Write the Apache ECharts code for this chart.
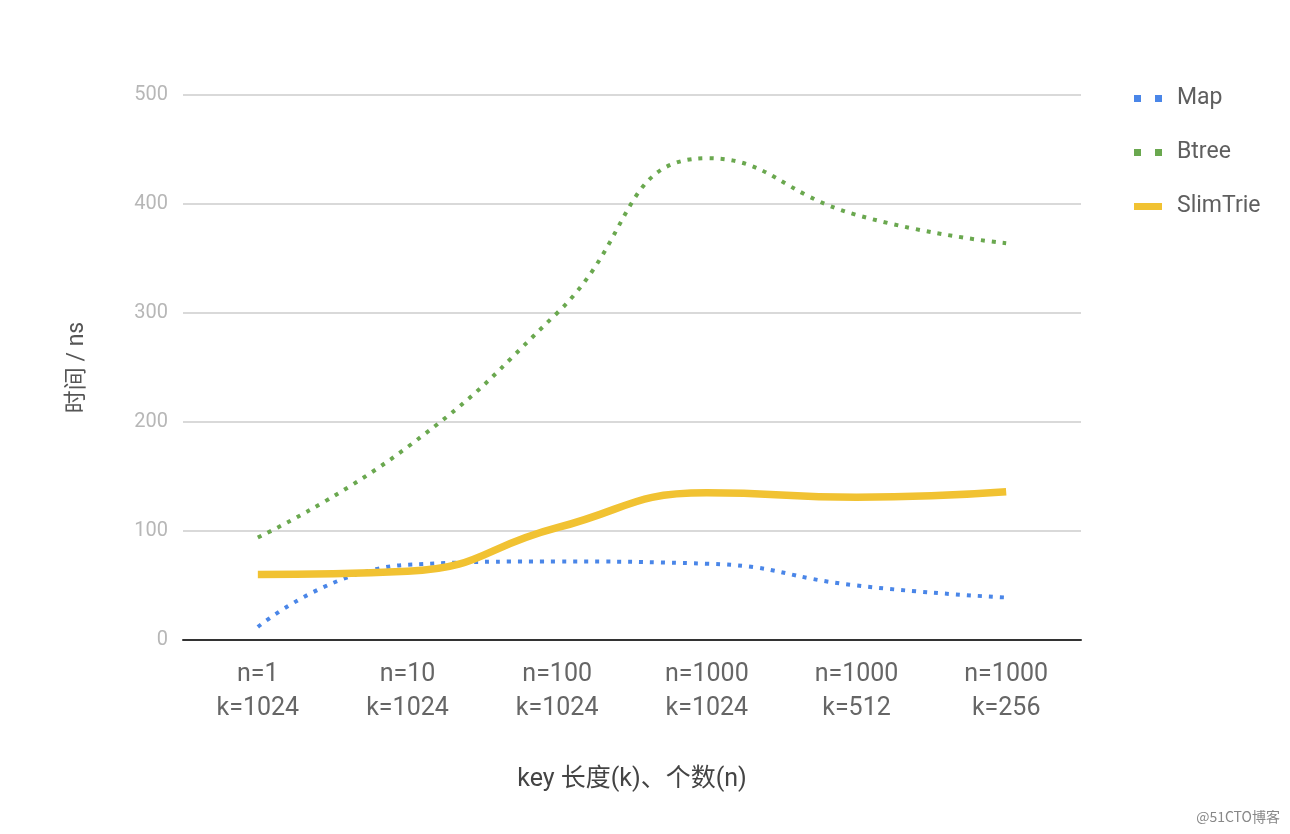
<!DOCTYPE html>
<html>
<head>
<meta charset="utf-8">
<script src="https://cdn.jsdelivr.net/npm/echarts@6/dist/echarts.min.js"></script>
<style>html,body{margin:0;padding:0;background:#fff;}#c{width:1290px;height:834px;}</style>
</head>
<body>
<div id="c"></div>
<script>
const categories = ['n=1\nk=1024', 'n=10\nk=1024', 'n=100\nk=1024', 'n=1000\nk=1024', 'n=1000\nk=512', 'n=1000\nk=256'];
const mapValues = [12, 69, 72, 70, 50, 39];
const btreeValues = [94, 177, 300, 442, 390, 364];
const slimTrieValues = [60, 63, 103, 135, 131, 136];
const yTicks = [0, 100, 200, 300, 400, 500];

const chart = echarts.init(document.getElementById('c'), null, {renderer: 'canvas'});
const font = 'Roboto, "Noto Sans CJK SC", sans-serif';
chart.setOption({
  animation: false,
  backgroundColor: '#fff',
  textStyle: {fontFamily: font},
  grid: {left: 183, right: 209, top: 95, bottom: 194, containLabel: false},
  legend: {
    orient: 'vertical',
    left: 1129,
    top: 82,
    itemGap: 31,
    itemWidth: 28,
    itemHeight: 7,
    textStyle: {fontSize: 23, color: '#5f5f5f', fontFamily: font, padding: [0, 0, 0, 10]},
    data: [
      {name: 'Map', icon: 'path://M0,0h7v7h-7z M21,0h7v7h-7z', itemStyle: {color: '#4a86e8'}},
      {name: 'Btree', icon: 'path://M0,0h7v7h-7z M21,0h7v7h-7z', itemStyle: {color: '#6aa84f'}},
      {name: 'SlimTrie', icon: 'rect', itemStyle: {color: '#f1c232'}}
    ]
  },
  xAxis: {
    type: 'category',
    data: categories,
    boundaryGap: true,
    name: 'key 长度(k)、个数(n)',
    nameLocation: 'middle',
    nameGap: 127,
    nameTextStyle: {fontSize: 25, color: '#444', fontFamily: font},
    axisLine: {show: true, lineStyle: {color: '#333', width: 2}},
    axisTick: {show: false},
    axisLabel: {fontSize: 25, color: '#666', lineHeight: 34, margin: 18, fontFamily: font}
  },
  yAxis: {
    type: 'value',
    min: 0,
    max: 500,
    interval: 100,
    name: '时间 / ns',
    nameLocation: 'middle',
    nameGap: 94,
    nameRotate: 90,
    nameTextStyle: {fontSize: 23, color: '#555', fontFamily: font},
    axisLine: {show: false},
    axisTick: {show: false},
    splitLine: {lineStyle: {color: '#cccccc', width: 1.5}},
    axisLabel: {fontSize: 20, color: '#b7b7b7', margin: 15, fontFamily: font,
      formatter: v => yTicks.indexOf(v) >= 0 ? String(v) : ''}
  },
  series: [
    {
      name: 'Map', type: 'line', data: mapValues, smooth: 0.5, symbol: 'none',
      itemStyle: {color: '#4a86e8'},
      lineStyle: {color: '#4a86e8', width: 4, type: [4, 7], cap: 'butt'},
      z: 3
    },
    {
      name: 'Btree', type: 'line', data: btreeValues, smooth: 0.5, symbol: 'none',
      itemStyle: {color: '#6aa84f'},
      lineStyle: {color: '#6aa84f', width: 4, type: [4, 7], cap: 'butt'},
      z: 3
    },
    {
      name: 'SlimTrie', type: 'line', data: slimTrieValues, smooth: 0.5, symbol: 'none',
      itemStyle: {color: '#f1c232'},
      lineStyle: {color: '#f1c232', width: 7.5},
      z: 4
    }
  ],
  graphic: [{
    type: 'text', right: 10, bottom: 10,
    style: {text: '@51CTO博客', fontSize: 14, fill: '#888', fontFamily: '"Noto Sans CJK SC", sans-serif'}
  }]
});
</script>
</body>
</html>
